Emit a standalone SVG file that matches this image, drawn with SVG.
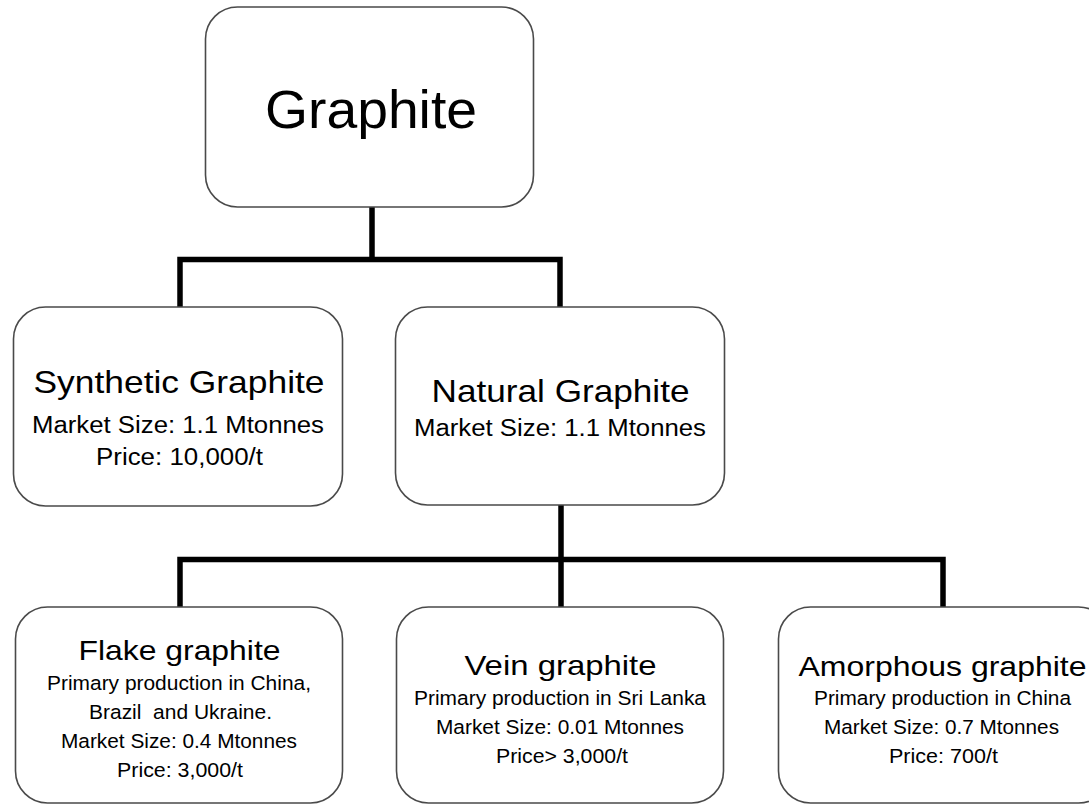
<svg xmlns="http://www.w3.org/2000/svg" width="1089" height="805" viewBox="0 0 1089 805">
<style>
.box{fill:#fff;stroke:#4a4a4a;stroke-width:1.6}
.conn{fill:none;stroke:#000;stroke-width:5.5;stroke-linejoin:miter;stroke-linecap:butt}
text{font-family:"Liberation Sans",Arial,sans-serif;fill:#000;text-anchor:middle}
.h0{font-size:53px}
.h1{font-size:32px}
.m1{font-size:23.5px}
.h2{font-size:28.5px}
.s2{font-size:20.5px}
</style>
<rect width="1089" height="805" fill="#fff"/>
<g id="connectors">
<path class="conn" d="M372 207 V259.5 M180 307 V259.5 H560 V307"/>
<path class="conn" d="M561 505 V607 M180 607 V559.5 H943 V607"/>
</g>
<g id="graphite">
<rect class="box" x="205.5" y="7" width="328" height="200" rx="32"/>
<text class="h0" x="371" y="128" textLength="212" lengthAdjust="spacingAndGlyphs">Graphite</text>
</g>
<g id="synthetic">
<rect class="box" x="13.5" y="307" width="329" height="199" rx="32"/>
<text class="h1" x="179" y="393" textLength="291" lengthAdjust="spacingAndGlyphs">Synthetic Graphite</text>
<text class="m1" x="178" y="433" textLength="292" lengthAdjust="spacingAndGlyphs">Market Size: 1.1 Mtonnes</text>
<text class="m1" x="179.5" y="465" textLength="167" lengthAdjust="spacingAndGlyphs">Price: 10,000/t</text>
</g>
<g id="natural">
<rect class="box" x="395.5" y="307" width="329" height="198" rx="32"/>
<text class="h1" x="560.5" y="402" textLength="258" lengthAdjust="spacingAndGlyphs">Natural Graphite</text>
<text class="m1" x="560" y="436" textLength="292" lengthAdjust="spacingAndGlyphs">Market Size: 1.1 Mtonnes</text>
</g>
<g id="flake">
<rect class="box" x="15.5" y="607" width="327" height="196" rx="32"/>
<text class="h2" x="179.5" y="660" textLength="202" lengthAdjust="spacingAndGlyphs">Flake graphite</text>
<text class="s2" x="179" y="690" textLength="264" lengthAdjust="spacingAndGlyphs">Primary production in China,</text>
<text class="s2" x="180.5" y="719" textLength="183" lengthAdjust="spacingAndGlyphs" xml:space="preserve">Brazil  and Ukraine.</text>
<text class="s2" x="179" y="748" textLength="236" lengthAdjust="spacingAndGlyphs">Market Size: 0.4 Mtonnes</text>
<text class="s2" x="180" y="777" textLength="126" lengthAdjust="spacingAndGlyphs">Price: 3,000/t</text>
</g>
<g id="vein">
<rect class="box" x="396.5" y="607" width="327" height="196" rx="32"/>
<text class="h2" x="560.5" y="675" textLength="192" lengthAdjust="spacingAndGlyphs">Vein graphite</text>
<text class="s2" x="560" y="705" textLength="292" lengthAdjust="spacingAndGlyphs">Primary production in Sri Lanka</text>
<text class="s2" x="560" y="734" textLength="248" lengthAdjust="spacingAndGlyphs">Market Size: 0.01 Mtonnes</text>
<text class="s2" x="562" y="763" textLength="132" lengthAdjust="spacingAndGlyphs">Price&gt; 3,000/t</text>
</g>
<g id="amorphous">
<rect class="box" x="778.5" y="607" width="332" height="196" rx="32"/>
<text class="h2" x="942.5" y="676" textLength="288" lengthAdjust="spacingAndGlyphs">Amorphous graphite</text>
<text class="s2" x="942.5" y="705" textLength="257" lengthAdjust="spacingAndGlyphs">Primary production in China</text>
<text class="s2" x="941.5" y="734" textLength="235" lengthAdjust="spacingAndGlyphs">Market Size: 0.7 Mtonnes</text>
<text class="s2" x="943.5" y="763" textLength="109" lengthAdjust="spacingAndGlyphs">Price: 700/t</text>
</g>
</svg>
